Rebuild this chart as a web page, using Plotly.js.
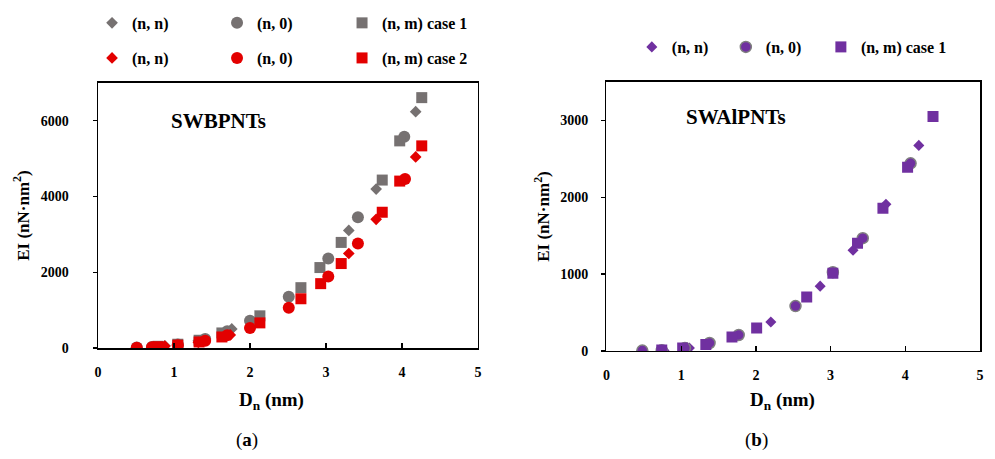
<!DOCTYPE html>
<html>
<head>
<meta charset="utf-8">
<script src="https://cdn.plot.ly/plotly-3.0.1.min.js"></script>
<style>html,body{margin:0;padding:0;background:#fff;}#chart{width:995px;height:459px;}</style>
</head>
<body>
<div id="chart"></div>
<script>
// ---- (a) SWBPNTs ----
const a_nn_case1_x = [0.88, 1.32, 1.76, 3.30, 3.66, 4.18];
const a_nn_case1_y = [60, 190, 505, 3107, 4197, 6242];
const a_n0_case1_x = [0.51, 0.71, 1.05, 1.41, 1.70, 2.00, 2.51, 3.03, 3.42, 4.03];
const a_n0_case1_y = [12, 28, 95, 240, 440, 717, 1355, 2364, 3453, 5578];
const a_nm_case1_x = [0.79, 1.05, 1.33, 1.63, 2.13, 2.67, 2.92, 3.20, 3.74, 3.97, 4.26];
const a_nm_case1_y = [45, 100, 205, 398, 850, 1594, 2125, 2789, 4436, 5471, 6613];

const a_nn_case2_x = [0.88, 1.32, 1.74, 3.30, 3.66, 4.18];
const a_nn_case2_y = [50, 150, 345, 2497, 3400, 5046];
const a_n0_case2_x = [0.51, 0.71, 1.05, 1.41, 1.70, 2.00, 2.51, 3.03, 3.42, 4.04];
const a_n0_case2_y = [10, 22, 75, 190, 340, 531, 1062, 1886, 2762, 4462];
const a_nm_case2_x = [0.79, 1.05, 1.33, 1.63, 2.13, 2.67, 2.93, 3.20, 3.74, 3.97, 4.26];
const a_nm_case2_y = [35, 75, 160, 292, 664, 1301, 1700, 2231, 3586, 4409, 5339];

// ---- (b) SWAlPNTs ----
const b_nn_x = [0.77, 1.11, 2.20, 2.86, 3.30, 3.74, 4.18];
const b_nn_y = [8, 39, 377, 844, 1312, 1909, 2675];
const b_n0_x = [0.48, 0.74, 1.05, 1.38, 1.77, 2.53, 3.03, 3.43, 4.07];
const b_n0_y = [5, 10, 40, 104, 208, 584, 1026, 1468, 2442];
const b_nm_x = [0.74, 1.02, 1.33, 1.68, 2.01, 2.68, 3.03, 3.36, 3.70, 4.03, 4.37];
const b_nm_y = [12, 38, 85, 182, 299, 701, 1010, 1403, 1857, 2390, 3052];

const xTickVals = [0, 1, 2, 3, 4, 5];
const xTickText = ['0', '1', '2', '3', '4', '5'];
const aYTickVals = [0, 2000, 4000, 6000];
const bYTickVals = [0, 1000, 2000, 3000];

const GRAY = '#767171';
const RED = '#E30000';
const PURPLE = '#7030A0';
const FONT = 'Liberation Serif, DejaVu Serif, serif';

function tr(x, y, name, sym, size, color, xa, ya, leg, line) {
  return {
    type: 'scatter', mode: 'markers', x: x, y: y, name: name,
    xaxis: xa, yaxis: ya, legend: leg,
    marker: {symbol: sym, size: size, color: color, line: line || {width: 0}},
    hoverinfo: 'x+y'
  };
}

const data = [
  tr(a_nn_case1_x, a_nn_case1_y, '(n, n)', 'diamond', 9, GRAY, 'x', 'y', 'legend'),
  tr(a_n0_case1_x, a_n0_case1_y, '(n, 0)', 'circle', 12, GRAY, 'x', 'y', 'legend'),
  tr(a_nm_case1_x, a_nm_case1_y, '(n, m) case 1', 'square', 11, GRAY, 'x', 'y', 'legend'),
  tr(a_nn_case2_x, a_nn_case2_y, '(n, n)', 'diamond', 9, RED, 'x', 'y', 'legend2'),
  tr(a_n0_case2_x, a_n0_case2_y, '(n, 0)', 'circle', 12, RED, 'x', 'y', 'legend2'),
  tr(a_nm_case2_x, a_nm_case2_y, '(n, m) case 2', 'square', 11, RED, 'x', 'y', 'legend2'),
  tr(b_nn_x, b_nn_y, '(n, n)', 'diamond', 8.5, PURPLE, 'x2', 'y2', 'legend3'),
  tr(b_n0_x, b_n0_y, '(n, 0)', 'circle', 11, PURPLE, 'x2', 'y2', 'legend3', {width: 1.5, color: '#7F7F7F'}),
  tr(b_nm_x, b_nm_y, '(n, m) case 1', 'square', 11, PURPLE, 'x2', 'y2', 'legend4')
];

const tickFont = {family: FONT, size: 14, color: '#000', weight: 'bold'};
function xaxis(domain, anchor) {
  return {
    domain: domain, anchor: anchor, range: [0, 5], automargin: false,
    tickvals: xTickVals, ticktext: xTickText,
    ticks: 'inside', ticklen: 5, tickwidth: 1.3, tickcolor: '#000',
    showline: true, linecolor: '#000', linewidth: 1.5, mirror: true,
    showgrid: false, zeroline: false, tickfont: tickFont, ticklabelstandoff: 11
  };
}
function yaxis(domain, anchor, range, vals, labelStandoff, titleStandoff) {
  return {
    domain: domain, anchor: anchor, range: range, automargin: false,
    tickvals: vals, ticktext: vals.map(String),
    ticks: 'outside', ticklen: 4, tickwidth: 1.3, tickcolor: '#000',
    showline: true, linecolor: '#000', linewidth: 1.5, mirror: true,
    showgrid: false, zeroline: false, tickfont: tickFont, ticklabelstandoff: labelStandoff,
    title: {text: '<b>EI (nN·nm<sup>2</sup>)</b>', font: {family: FONT, size: 17, color: '#000'}, standoff: titleStandoff}
  };
}

const legFont = {family: FONT, size: 16, color: '#000', weight: 'bold'};
function legend(x, y, ew) {
  const l = {
    orientation: 'h', x: x, y: y, xanchor: 'left', yanchor: 'middle',
    xref: 'paper', yref: 'paper', font: legFont, bgcolor: 'rgba(0,0,0,0)',
    itemwidth: 30, traceorder: 'normal',
    itemclick: false, itemdoubleclick: false
  };
  if (ew) { l.entrywidth = ew; l.entrywidthmode = 'pixels'; }
  return l;
}

const layout = {
  width: 995, height: 459,
  margin: {l: 0, r: 0, t: 0, b: 0, autoexpand: false},
  paper_bgcolor: '#fff', plot_bgcolor: '#fff',
  font: {family: FONT, color: '#000'},
  showlegend: true,
  xaxis: xaxis([0.0985, 0.4804], 'y'),
  yaxis: yaxis([0.2418, 0.8192], 'x', [0, 7000], aYTickVals, 21, 7),
  xaxis2: xaxis([0.6095, 0.985], 'y2'),
  yaxis2: yaxis([0.2353, 0.8214], 'x2', [0, 3500], bYTickVals, 10, 6),
  legend: legend(0.0925, 0.950, 80),
  legend2: legend(0.0925, 0.8736, 80),
  legend3: legend(0.635, 0.8976, 49),
  legend4: legend(0.825, 0.8976, 0),
  annotations: [
    {xref: 'x', yref: 'y', x: 1.58, y: 6000, text: '<b>SWBPNTs</b>', showarrow: false,
     xanchor: 'center', yanchor: 'middle', font: {family: FONT, size: 21, color: '#000'}},
    {xref: 'x2', yref: 'y2', x: 1.73, y: 3040, text: '<b>SWAlPNTs</b>', showarrow: false,
     xanchor: 'center', yanchor: 'middle', font: {family: FONT, size: 21, color: '#000'}},
    {xref: 'paper', yref: 'paper', x: 271 / 995, y: 1 - 401 / 459, text: '<b>D<sub>n</sub> (nm)</b>', showarrow: false,
     xanchor: 'center', yanchor: 'middle', font: {family: FONT, size: 19, color: '#000'}},
    {xref: 'paper', yref: 'paper', x: 782 / 995, y: 1 - 401 / 459, text: '<b>D<sub>n</sub> (nm)</b>', showarrow: false,
     xanchor: 'center', yanchor: 'middle', font: {family: FONT, size: 19, color: '#000'}},
    {xref: 'paper', yref: 'paper', x: 247 / 995, y: 1 - 440 / 459, text: '(<b>a</b>)', showarrow: false,
     xanchor: 'center', yanchor: 'middle', font: {family: FONT, size: 19, color: '#000'}},
    {xref: 'paper', yref: 'paper', x: 756 / 995, y: 1 - 440 / 459, text: '(<b>b</b>)', showarrow: false,
     xanchor: 'center', yanchor: 'middle', font: {family: FONT, size: 19, color: '#000'}}
  ]
};

Plotly.newPlot('chart', data, layout, {displayModeBar: false, staticPlot: true});
</script>
</body>
</html>
